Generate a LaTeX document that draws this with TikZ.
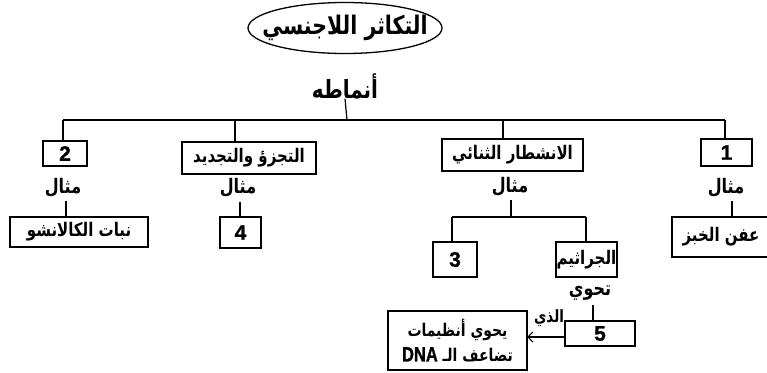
\documentclass[tikz,border=0pt]{standalone}
\usepackage{fontspec}
\usepackage{graphicx}
\setmainfont{Liberation Sans}
\newfontfamily\numfont{Liberation Sans}[FakeBold=1.2]
\newfontfamily\arfont[Script=Arabic]{DejaVu Sans}
\TeXXeTstate=1
\usetikzlibrary{shapes.geometric,arrows.meta}
\newcommand\AR[1]{\scalebox{1}[1.25]{\arfont\bfseries\beginR #1\endR}}
\begin{document}
\begin{tikzpicture}[x=1pt,y=-1pt,
  every node/.style={inner sep=0pt,outer sep=0pt,align=center},
  boxnode/.style={draw,line width=1.3pt,font=\fontsize{15}{17}\selectfont},
  numbox/.style={draw,line width=1.3pt,font=\fontsize{21}{23}\numfont\bfseries},
  lbl/.style={font=\fontsize{16}{18}\selectfont},
  conn/.style={line width=1.2pt}]
\useasboundingbox (0,0) rectangle (767,372);
% title
\node[draw,ellipse,line width=1.3pt,minimum width=194pt,minimum height=51pt] (title) at (345,28) {};
\node[font=\fontsize{20.5}{22}\selectfont] (titletext) at (title.center) {\AR{التكاثر اللاجنسي}};
\node[font=\fontsize{20}{22}\selectfont] (types) at (345,86) {\AR{أنماطه}};
\coordinate (top) at (347,120);
\coordinate (busL) at (63,120);
\coordinate (busA) at (235,120);
\coordinate (busB) at (503,120);
\coordinate (busR) at (725,120);
% level 1
\node[numbox,minimum width=44pt,minimum height=25pt] (b2) at (65,153.5) {2};
\node[boxnode,minimum width=134pt,minimum height=32pt] (frag) at (249,158) {\AR{التجزؤ والتجديد}};
\node[boxnode,minimum width=141pt,minimum height=32pt] (fis) at (512.5,155) {\AR{الانشطار الثنائي}};
\node[numbox,minimum width=51pt,minimum height=27pt] (b1) at (726.5,152.5) {1};
% mithal labels
\node[lbl] (m2) at (63,188) {\AR{مثال}};
\node[lbl] (m3) at (238,188) {\AR{مثال}};
\node[lbl] (m4) at (510,187) {\AR{مثال}};
\node[lbl] (m1) at (726,188) {\AR{مثال}};
% level 2
\node[boxnode,minimum width=138pt,minimum height=30pt] (kal) at (79,232) {\AR{نبات الكالانشو}};
\node[numbox,minimum width=41pt,minimum height=31pt] (b4) at (240.5,232.5) {4};
\node[boxnode,minimum width=98pt,minimum height=40pt] (bread) at (721,237) {\AR{عفن الخبز}};
\node[numbox,minimum width=44pt,minimum height=35pt] (b3) at (455,259.5) {3};
\node[boxnode,minimum width=61pt,minimum height=35pt] (germ) at (586.5,259.5) {\AR{الجراثيم}};
\node[lbl] (contains) at (590,293) {\AR{تحوي}};
\node[numbox,minimum width=70pt,minimum height=25pt] (b5) at (600,333.5) {5};
\node[boxnode,minimum width=139pt,minimum height=59pt,font=\fontsize{14}{25}\selectfont] (dna) at (457.5,340.5) {\AR{يحوي أنظيمات}\\\scalebox{1}[1.25]{\arfont\bfseries\beginR تضاعف الـ \beginL{\fontsize{16.5}{19}\numfont\bfseries DNA}\endL\endR}};
\node[font=\fontsize{13.5}{15}\selectfont] (which) at (549,318) {\AR{الذي}};
% connectors
\draw[conn] (types.south) -- (top);
\draw[conn] (busL) -- (busR);
\draw[conn] (busL) -- (busL |- b2.north);
\draw[conn] (busA) -- (busA |- frag.north);
\draw[conn] (busB) -- (busB |- fis.north);
\draw[conn] (busR) -- (busR |- b1.north);
\coordinate (v2) at (66,201);
\draw[conn] (v2) -- (v2 |- kal.north);
\coordinate (v3) at (240,202);
\draw[conn] (v3) -- (v3 |- b4.north);
\coordinate (v1) at (732,201);
\draw[conn] (v1) -- (v1 |- bread.north);
\coordinate (v4) at (511,200);
\coordinate (j4) at (511,217);
\coordinate (jl) at (452,217);
\coordinate (jr) at (586,217);
\draw[conn] (v4) -- (j4);
\draw[conn] (jl) -- (jr);
\draw[conn] (jl) -- (jl |- b3.north);
\draw[conn] (jr) -- (jr |- germ.north);
\coordinate (v5) at (593,305);
\draw[conn] (v5) -- (v5 |- b5.north);
\draw[conn,-{Straight Barb[length=5pt,width=10pt,line width=1.2pt]}] (b5.west |- 0,337) -- (dna.east |- 0,337);
\end{tikzpicture}
\end{document}
